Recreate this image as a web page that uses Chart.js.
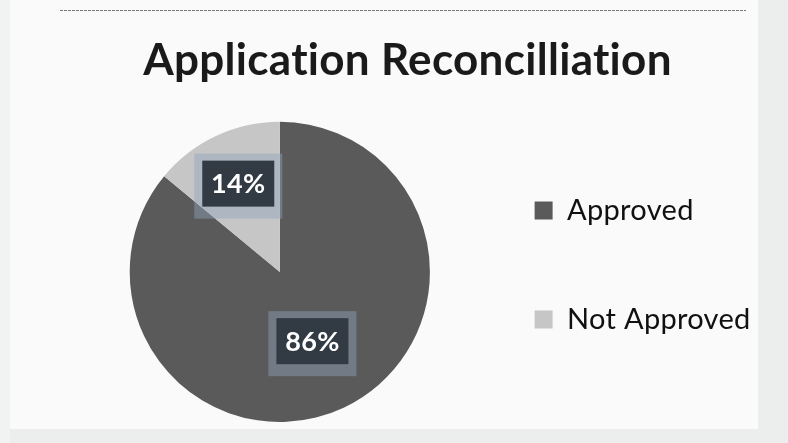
<!DOCTYPE html>
<html>
<head>
<meta charset="utf-8">
<script src="https://cdn.jsdelivr.net/npm/chart.js@4.4.1/dist/chart.umd.min.js"></script>
<style>
  html, body { margin: 0; padding: 0; background: #f5f6f6; }
  #wrap { width: 788px; height: 443px; }
</style>
</head>
<body>
<div id="wrap"><canvas id="reconChart" width="788" height="443"></canvas></div>
<script>
const chartTitle = 'Application Reconcilliation';
const categories = ['Approved', 'Not Approved'];
const shares = [86, 14];
const sliceColors = ['#5a5a5a', '#c6c6c6'];

// page background, faint scanned edges and the dotted rule along the top
const pageBackdrop = {
    id: 'pageBackdrop',
    beforeDraw(chart) {
        const { ctx, width, height } = chart;
        // a touch of spacing keeps Lato from joining "ti"
        ctx.letterSpacing = '0.3px';
        ctx.save();
        ctx.fillStyle = '#fafafa';
        ctx.fillRect(0, 0, width, height);
        ctx.fillStyle = '#eceeee';
        ctx.fillRect(width - 30, 0, 30, height);
        ctx.fillRect(0, height - 14, width, 14);
        ctx.fillStyle = '#f1f2f2';
        ctx.fillRect(0, 0, 10, height);
        ctx.strokeStyle = '#777';
        ctx.lineWidth = 1;
        ctx.setLineDash([3, 1]);
        ctx.beginPath();
        ctx.moveTo(60, 10.5);
        ctx.lineTo(746, 10.5);
        ctx.stroke();
        ctx.restore();
    }
};

// title spans the whole sheet, legend block sits a little higher
const boxTweaks = {
    id: 'boxTweaks',
    afterLayout(chart, args, opts) {
        const t = chart.titleBlock;
        if (t) {
            t.left = opts.titleLeft;
            t.right = opts.titleRight;
            t.width = t.right - t.left;
        }
        const lg = chart.legend;
        if (lg) {
            lg.top -= opts.legendLift;
            lg.bottom -= opts.legendLift;
        }
    }
};

// percentage labels in dark boxes with a pale frame
const valueBoxes = {
    id: 'valueBoxes',
    afterDatasetsDraw(chart, args, opts) {
        const ctx = chart.ctx;
        const meta = chart.getDatasetMeta(0);
        const total = shares.reduce((a, b) => a + b, 0);
        meta.data.forEach((arc, i) => {
            const { x, y, startAngle, endAngle, outerRadius } =
                arc.getProps(['x', 'y', 'startAngle', 'endAngle', 'outerRadius'], true);
            const mid = (startAngle + endAngle) / 2;
            const r = outerRadius * opts.radial[i];
            const cx = x + Math.cos(mid) * r;
            const cy = y + Math.sin(mid) * r;
            const w = 72, h = 46;

            ctx.save();
            ctx.fillStyle = 'rgba(145, 162, 188, 0.45)';
            ctx.fillRect(cx - w / 2 - 8, cy - h / 2 - 7, w + 16, h + 19);
            ctx.fillStyle = '#323a44';
            ctx.fillRect(cx - w / 2, cy - h / 2, w, h);
            ctx.fillStyle = '#ffffff';
            ctx.font = 'bold 27px Lato';
            ctx.textAlign = 'center';
            ctx.textBaseline = 'middle';
            ctx.fillText(Math.round(shares[i] / total * 100) + '%', cx, cy + 1);
            ctx.restore();
        });
    }
};

new Chart(document.getElementById('reconChart'), {
    type: 'pie',
    data: {
        labels: categories,
        datasets: [{
            data: shares,
            backgroundColor: sliceColors,
            borderWidth: 0
        }]
    },
    options: {
        responsive: false,
        animation: false,
        layout: {
            padding: { left: 105, right: 31, top: 0, bottom: 21 }
        },
        plugins: {
            title: {
                display: true,
                text: chartTitle,
                color: '#1a1a1a',
                font: { family: 'Lato', size: 44, weight: 'bold', lineHeight: 1.2 },
                padding: { top: 34, bottom: 35 }
            },
            legend: {
                position: 'right',
                fullSize: false,
                labels: {
                    color: '#111',
                    font: { family: 'Lato', size: 29 },
                    boxWidth: 18,
                    boxHeight: 18,
                    padding: 80
                }
            },
            tooltip: { enabled: false },
            boxTweaks: { titleLeft: 108, titleRight: 707, legendLift: 7 },
            valueBoxes: { radial: [0.51, 0.65] }
        }
    },
    plugins: [pageBackdrop, boxTweaks, valueBoxes]
});
</script>
</body>
</html>
